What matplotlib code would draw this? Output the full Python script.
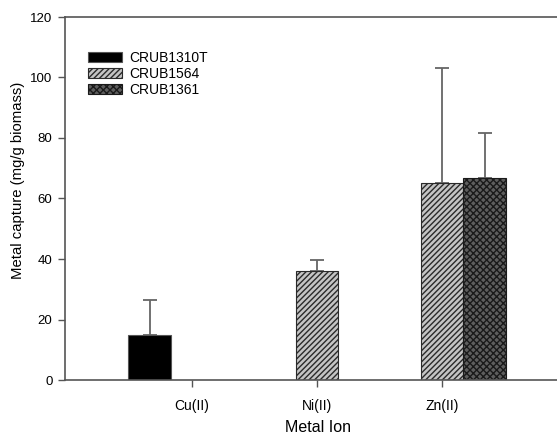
import matplotlib
matplotlib.use("Agg")
import matplotlib.pyplot as plt
import numpy as np

plt.rcParams['font.family'] = ['Liberation Sans', 'DejaVu Sans']
plt.rcParams['hatch.linewidth'] = 1.0

categories = ["Cu(II)", "Ni(II)", "Zn(II)"]
series = ["CRUB1310T", "CRUB1564", "CRUB1361"]
means = {
    "CRUB1310T": [15.0, 0.0, 0.0],
    "CRUB1564": [0.0, 36.1, 65.2],
    "CRUB1361": [0.0, 0.0, 66.9],
}
errors = {
    "CRUB1310T": [11.4, 0.0, 0.0],
    "CRUB1564": [0.0, 3.6, 37.9],
    "CRUB1361": [0.0, 0.0, 14.6],
}
present = {
    "CRUB1310T": [True, False, False],
    "CRUB1564": [False, True, True],
    "CRUB1361": [False, False, True],
}
yticks = [0, 20, 40, 60, 80, 100, 120]

styles = {
    "CRUB1310T": dict(color="black", hatch=None, edgecolor="#555555"),
    "CRUB1564": dict(color="#c4c4c4", hatch="//////", edgecolor="#2a2a2a"),
    "CRUB1361": dict(color="#5e5e5e", hatch="xxxxx", edgecolor="#1a1a1a"),
}

fig = plt.figure(figsize=(5.57, 4.36), dpi=100)
ax = fig.add_axes([65/557, 56/436, 492/557, 363/436])

x = np.arange(1, len(categories) + 1)
w = 0.34
offsets = [-w, 0, w]
handles = []
for s, off in zip(series, offsets):
    st = styles[s]
    xs = [xi + off for xi, p in zip(x, present[s]) if p]
    vs = [v for v, p in zip(means[s], present[s]) if p]
    es = [e for e, p in zip(errors[s], present[s]) if p]
    bars = ax.bar(xs, vs, width=w, color=st["color"], hatch=st["hatch"],
                  edgecolor=st["edgecolor"], linewidth=0.8, label=s, zorder=2)
    ax.errorbar(xs, vs, yerr=[np.zeros(len(es)), es], fmt="none",
                ecolor="#666666", elinewidth=1.3, capsize=5, capthick=1.3, zorder=1)
    handles.append(bars)

ax.set_xlim(1 - 127/125, 3 + 115/125)
ax.set_ylim(0, 120)
ax.set_yticks(yticks)
ax.set_xticks(x)
ax.set_xticklabels(categories)
ax.tick_params(axis="y", direction="out", length=5, width=1, color="#555555",
               labelsize=9.5, pad=4)
ax.tick_params(axis="x", direction="out", length=5, width=1, color="#555555",
               labelsize=10, pad=9)
for sp in ["left", "bottom", "top"]:
    ax.spines[sp].set_color("#555555")
    ax.spines[sp].set_linewidth(1.2)
ax.spines["right"].set_visible(False)

ax.set_xlabel("Metal Ion", fontsize=11.5)
ax.xaxis.set_label_coords((318 - 65) / 492, (380 - 427) / 363)
ax.xaxis.label.set_va("center")
ax.set_ylabel("Metal capture (mg/g biomass)", fontsize=10.7)
ax.yaxis.set_label_coords((18 - 65) / 492, (380 - 180) / 363)
ax.yaxis.label.set_va("center")

leg = ax.legend(handles=handles, labels=series, loc="upper left",
                bbox_to_anchor=((88 - 65) / 492, (380 - 51) / 363), frameon=False,
                fontsize=10, handlelength=2.45, handleheight=0.75, labelspacing=0.15,
                handletextpad=0.55, borderaxespad=0, borderpad=0)

fig.savefig("out.png", dpi=100)
